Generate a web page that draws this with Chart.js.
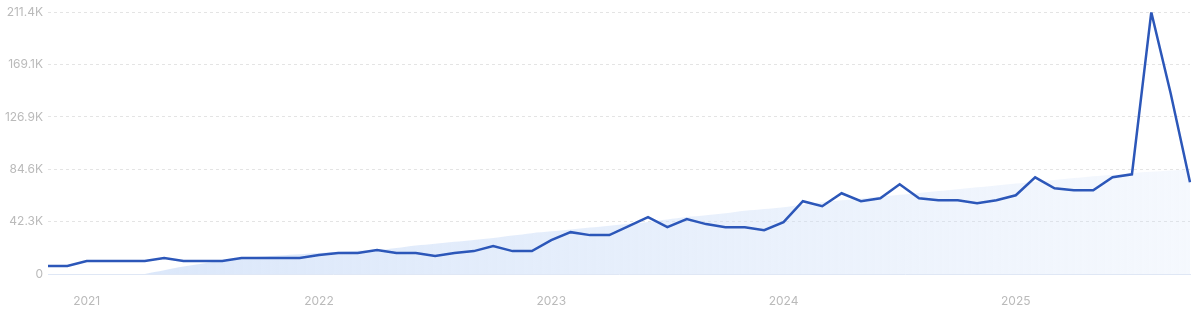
<!DOCTYPE html>
<html>
<head>
<meta charset="utf-8">
<script src="https://cdn.jsdelivr.net/npm/chart.js@4.4.1/dist/chart.umd.min.js"></script>
<style>
  html, body { margin: 0; padding: 0; background: #fff; }
  #wrap { width: 1200px; height: 311px; position: relative; }
</style>
</head>
<body>
<div id="wrap"><canvas id="trendChart"></canvas></div>
<script>
// monthly points, Nov 2020 -> Oct 2025
const START_YEAR = 2020;
const START_MONTH = 11;
const N_POINTS = 60;

// monthly values (K)
const volume = [
  6.4, 6.4, 10.5, 10.5, 10.5, 10.5, 12.9, 10.5, 10.5, 10.5,
  12.9, 12.9, 12.9, 12.9, 15.3, 16.9, 16.9, 19.3, 16.9, 16.9,
  14.5, 16.9, 18.5, 22.5, 18.5, 18.5, 27.4, 33.8, 31.4, 31.4,
  38.6, 45.9, 37.8, 44.3, 40.3, 37.8, 37.8, 35.4, 41.9, 58.8,
  54.7, 65.2, 58.8, 61.2, 72.5, 61.2, 59.6, 59.6, 57.2, 59.6,
  63.6, 78.1, 69.2, 67.6, 67.6, 78.1, 80.5, 211.43, 146, 74.1
];

// shaded trend area (K), starts at Apr 2021
const trend = [
  null, null, null, null, null, 0, 3, 6, 8.5, 11,
  13, 14, 15, 16, 17, 18, 18.7, 19.3, 21, 23,
  24.5, 26, 27.5, 29, 31, 33, 34.5, 36, 37.5, 39,
  40.5, 42, 44, 46, 47.5, 49, 51, 52.5, 54, 56,
  58, 59.5, 61, 62.5, 64, 65.5, 67, 68.5, 70, 71.5,
  73, 74.5, 76, 77.5, 79, 80, 81.5, 82.5, 83.5, 84.6
];

// y axis ticks
const yTicks = [0, 42286, 84572, 126858, 169144, 211430];
const yTickLabels = ["0", "42.3K", "84.6K", "126.9K", "169.1K", "211.4K"];

// month labels
const months = [];
for (let i = 0; i < N_POINTS; i++) {
  const m = START_MONTH - 1 + i;
  months.push({ year: START_YEAR + Math.floor(m / 12), month: (m % 12) + 1 });
}
const labels = months.map(d => d.year + "-" + String(d.month).padStart(2, "0"));

const LINE_COL = "#2c57b9";
const TICK_COL = "#bababa";

function trendFill(ctx) {
  const chart = ctx.chart;
  const a = chart.chartArea;
  if (!a) return "rgba(210,225,248,0.4)";
  const g = chart.ctx.createLinearGradient(a.left, 0, a.right, 0);
  g.addColorStop(0, "rgba(205,222,248,0.75)");
  g.addColorStop(0.5, "rgba(205,222,248,0.5)");
  g.addColorStop(1, "rgba(205,222,248,0.2)");
  return g;
}

new Chart(document.getElementById("trendChart").getContext("2d"), {
  type: "line",
  data: {
    labels: labels,
    datasets: [
      {
        label: "Volume",
        data: volume.map(v => v * 1000),
        borderColor: LINE_COL,
        borderWidth: 2.5,
        pointRadius: 0,
        tension: 0,
        fill: false
      },
      {
        label: "Trend",
        data: trend.map(v => v === null ? null : v * 1000),
        borderWidth: 0,
        borderColor: "rgba(0,0,0,0)",
        backgroundColor: trendFill,
        pointRadius: 0,
        tension: 0.3,
        fill: "origin"
      }
    ]
  },
  options: {
    responsive: true,
    maintainAspectRatio: false,
    animation: false,
    layout: { padding: { top: 11, right: 10, left: 0, bottom: 0 } },
    plugins: {
      legend: { display: false },
      tooltip: { enabled: false }
    },
    scales: {
      x: {
        offset: false,
        grid: { display: false },
        border: { display: true, color: "#dfe7f5", width: 1 },
        afterFit: s => { s.height = 37; },
        ticks: {
          autoSkip: false,
          maxRotation: 0,
          padding: 12,
          color: TICK_COL,
          font: { family: "Inter", size: 12 },
          callback: (v, i) => months[i].month === 1 ? String(months[i].year) : null
        }
      },
      y: {
        min: 0,
        max: yTicks[yTicks.length - 1],
        afterBuildTicks: s => { s.ticks = yTicks.map(v => ({ value: v })); },
        afterFit: s => { s.width = 48; },
        border: { display: false, dash: [3, 3] },
        grid: {
          color: c => c.index === 0 ? "rgba(0,0,0,0)" : "#e4e4e4",
          drawTicks: false
        },
        ticks: {
          padding: 5,
          color: TICK_COL,
          font: { family: "Inter", size: 12 },
          callback: (v, i) => yTickLabels[i]
        }
      }
    }
  }
});
</script>
</body>
</html>
